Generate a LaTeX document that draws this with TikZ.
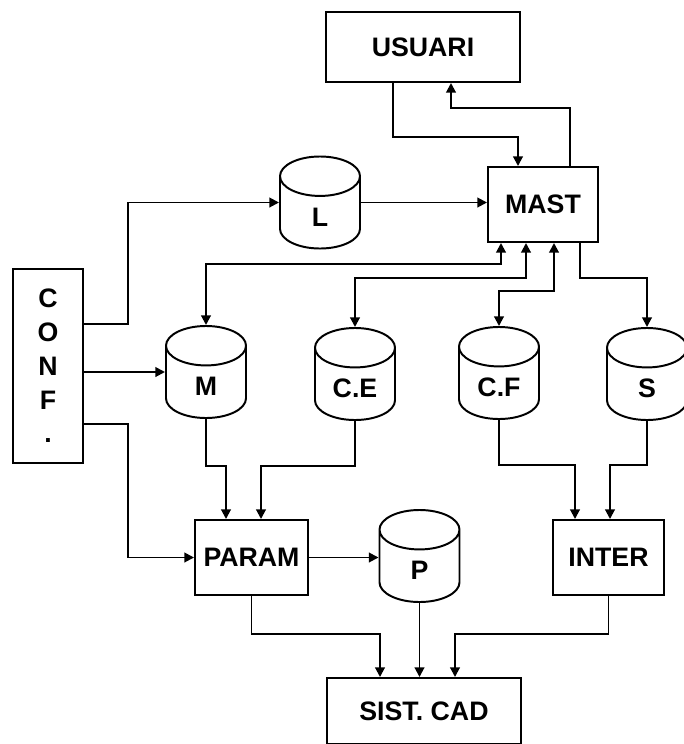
\documentclass[tikz,border=0pt]{standalone}
\usepackage{fontspec}
\setmainfont{Liberation Sans}
\usepackage{tikz}
\usetikzlibrary{arrows.meta,shapes.geometric}

% label sits low in the drum body; fixed box so every drum gets the same cap
\newcommand{\dblabel}[1]{\raisebox{-0.34cm}[0pt][0pt]{\makebox[0.58cm]{#1}}}

\begin{document}
\begin{tikzpicture}[
  x=0.025cm, y=-0.025cm,
  line width=1.4pt,
  every node/.style={font=\fontsize{19}{24}\selectfont\bfseries, align=center, inner sep=0pt},
  box/.style={draw, rectangle},
  store/.style={draw, cylinder, shape border rotate=90, aspect=1.7, anchor=shape center, minimum width=2cm, minimum height=2.3cm},
  arr/.style={-{Triangle[length=2.4mm,width=2.4mm]}},
  biarr/.style={{Triangle[length=2.4mm,width=2.4mm]}-{Triangle[length=2.4mm,width=2.4mm]}},
]
  \useasboundingbox (0,0) rectangle (684,744);

  % boxes
  \node[box, minimum width=4.85cm, minimum height=1.75cm] (usuari) at (423,47) {USUARI};
  \node[box, minimum width=2.75cm, minimum height=1.875cm] (mast) at (543,204.5) {MAST};
  \node[box, minimum width=1.75cm, minimum height=4.85cm] (conf) at (48,366) {C\\O\\N\\F\\.};
  \node[box, minimum width=2.825cm, minimum height=1.875cm] (param) at (251.5,557.5) {PARAM};
  \node[box, minimum width=2.775cm, minimum height=1.875cm] (inter) at (608.5,557.5) {INTER};
  \node[box, minimum width=4.85cm, minimum height=1.65cm] (sist) at (424,711) {SIST. CAD};

  % stores
  \node[store] (l) at (320,202.5) {\dblabel{L}};
  \node[store] (m) at (206,372) {\dblabel{M}};
  \node[store] (ce) at (355,374) {\dblabel{C.E}};
  \node[store] (cf) at (499,373) {\dblabel{C.F}};
  \node[store] (s) at (647,374) {\dblabel{S}};
  \node[store] (p) at (419.5,556) {\dblabel{P}};

  % user <-> master
  \draw[arr] (usuari.south -| 393,0) |- (518,137) -- (mast.north -| 518,0);
  \draw[arr] (mast.north -| 570,0) |- (451,108) -- (usuari.south -| 451,0);
  \draw[arr] (l.shape center -| l.east) -- (l.shape center -| mast.west);

  % config
  \draw[arr] (conf.east |- 0,324) -| (128,0 |- l.shape center) -- (l.shape center -| l.west);
  \draw[arr] (conf.east |- m.shape center) -- (m.shape center -| m.west);
  \draw[arr] (conf.east |- 0,424) -| (128,0 |- param.west) -- (param.west);

  % master <-> stores
  \draw[biarr] (mast.south -| 501,0) |- (m.north |- 0,264) -- (m.north);
  \draw[biarr] (mast.south -| 526,0) |- (ce.north |- 0,278) -- (ce.north);
  \draw[biarr] (mast.south -| 554,0) |- (cf.north |- 0,291) -- (cf.north);
  \draw[arr] (mast.south -| 580,0) |- (s.north |- 0,278) -- (s.north);

  % stores -> param / inter
  \draw[arr] (m.south) -- (m.south |- 0,466) -| (param.north -| 226,0);
  \draw[arr] (ce.south) -- (ce.south |- 0,466) -| (param.north -| 261,0);
  \draw[arr] (cf.south) -- (cf.south |- 0,465) -| (inter.north -| 575,0);
  \draw[arr] (s.south) -- (s.south |- 0,465) -| (inter.north -| 610,0);
  \draw[arr] (param.east) -- (param.east -| p.west);

  % into sist. cad
  \draw[arr] (param.south) -- (param.south |- 0,634) -| (sist.north -| 380,0);
  \draw[arr] (p.south) -- (p.south |- sist.north);
  \draw[arr] (inter.south) -- (inter.south |- 0,634) -| (sist.north -| 455,0);
\end{tikzpicture}
\end{document}
